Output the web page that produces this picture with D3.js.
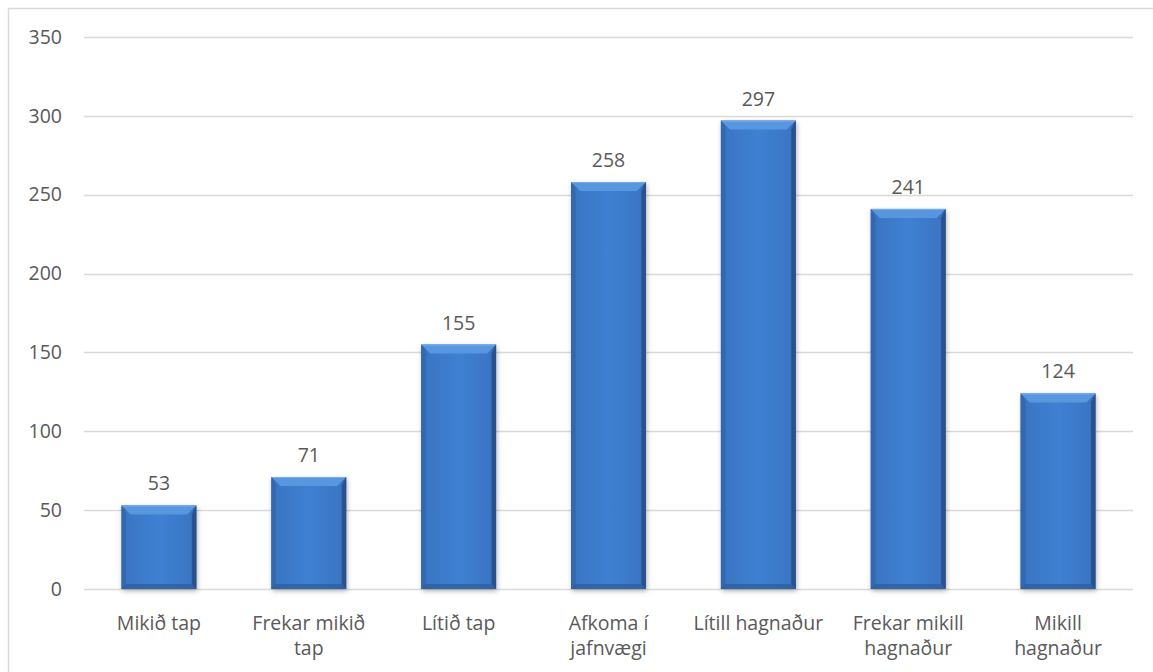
<!DOCTYPE html>
<html>
<head>
<meta charset="utf-8">
<script src="https://cdn.jsdelivr.net/npm/d3@7"></script>
<style>
  html, body { margin: 0; padding: 0; background: #fff; }
  svg { display: block; }
  text { font-family: "Open Sans", "Noto Sans", sans-serif; fill: #595959; }
</style>
</head>
<body>
<svg id="chart" width="1153" height="672"></svg>
<script>
// Category labels (each line of a wrapped label is its own entry)
const categories = [
  ["Mikið tap"],
  ["Frekar mikið", "tap"],
  ["Lítið tap"],
  ["Afkoma í", "jafnvægi"],
  ["Lítill hagnaður"],
  ["Frekar mikill", "hagnaður"],
  ["Mikill", "hagnaður"]
];
const values = [53, 71, 155, 258, 297, 241, 124];
const yTicks = [0, 50, 100, 150, 200, 250, 300, 350];

const svg = d3.select("#chart");
const plot = { left: 84, right: 1133, top: 37, bottom: 589 };
const fontSize = 19.5;

// Outer chart-area frame
svg.append("rect")
  .attr("x", 8.5).attr("y", 8.5)
  .attr("width", 1170).attr("height", 700)
  .attr("fill", "#fff").attr("stroke", "#d9d9d9").attr("stroke-width", 1.5);

const x = d3.scaleBand()
  .domain(d3.range(categories.length))
  .range([plot.left, plot.right])
  .paddingInner(0.5).paddingOuter(0.25);

const y = d3.scaleLinear().domain([0, 350]).range([plot.bottom, plot.top]);

// Gridlines
svg.append("g").selectAll("line").data(yTicks).join("line")
  .attr("x1", plot.left).attr("x2", plot.right)
  .attr("y1", d => Math.round(y(d)) + 0.5).attr("y2", d => Math.round(y(d)) + 0.5)
  .attr("stroke", "#d9d9d9").attr("stroke-width", 1.3);

// Y axis labels
const yAxis = d3.axisLeft(y).tickValues(yTicks).tickSize(0).tickPadding(0);
const yg = svg.append("g").attr("transform", `translate(62,0)`).call(yAxis);
yg.select(".domain").remove();
yg.attr("font-size", null).attr("font-family", null);
yg.selectAll("text").attr("font-size", fontSize).attr("fill", "#595959")
  .style("font-family", '"Open Sans", sans-serif');

// Bar fill: horizontal gradient dark edges -> lighter centre
const defs = svg.append("defs");
const body = defs.append("linearGradient").attr("id", "barBody")
  .attr("x1", 0).attr("x2", 1).attr("y1", 0).attr("y2", 0);
[[0, "#2d5f9f"], [0.08, "#3a76c4"], [0.5, "#3f80d2"], [0.92, "#3a76c4"], [1, "#2d5f9f"]]
  .forEach(([o, c]) => body.append("stop").attr("offset", o).attr("stop-color", c));

const shadow = defs.append("filter").attr("id", "barShadow")
  .attr("x", "-20%").attr("y", "-5%").attr("width", "140%").attr("height", "115%");
shadow.append("feDropShadow").attr("dx", 1).attr("dy", 2).attr("stdDeviation", 2.5)
  .attr("flood-color", "#000").attr("flood-opacity", 0.3);

const bars = svg.append("g").selectAll("g").data(values).join("g");
const bevel = 9, bevelTop = 9;

bars.each(function (v, i) {
  const g = d3.select(this);
  const x0 = x(i), w = x.bandwidth(), y0 = y(v), y1 = y(0);
  const h = y1 - y0;
  g.append("rect").attr("x", x0).attr("y", y0).attr("width", w).attr("height", h)
    .attr("fill", "url(#barBody)").attr("filter", "url(#barShadow)");
  // top bevel (lighter)
  g.append("path")
    .attr("d", `M${x0},${y0}L${x0 + w},${y0}L${x0 + w - bevel},${y0 + bevelTop}L${x0 + bevel},${y0 + bevelTop}Z`)
    .attr("fill", "#5896df");
  // left bevel
  g.append("path")
    .attr("d", `M${x0},${y0}L${x0 + bevel * 0.5},${y0 + bevelTop}L${x0 + bevel * 0.5},${y1 - 5}L${x0},${y1}Z`)
    .attr("fill", "#3169b0").attr("opacity", 0.85);
  // right bevel
  g.append("path")
    .attr("d", `M${x0 + w},${y0}L${x0 + w - bevel * 0.5},${y0 + bevelTop}L${x0 + w - bevel * 0.5},${y1 - 5}L${x0 + w},${y1}Z`)
    .attr("fill", "#284f8a").attr("opacity", 0.9);
  // bottom bevel
  g.append("path")
    .attr("d", `M${x0},${y1}L${x0 + bevel * 0.5},${y1 - 5}L${x0 + w - bevel * 0.5},${y1 - 5}L${x0 + w},${y1}Z`)
    .attr("fill", "#2c5c9a").attr("opacity", 0.7);
  // thin highlight along the top edge
  g.append("line").attr("x1", x0 + 1).attr("x2", x0 + w - 1)
    .attr("y1", y0 + 0.5).attr("y2", y0 + 0.5)
    .attr("stroke", "#7ab0ea").attr("stroke-width", 1);
});

// Value labels
svg.append("g").selectAll("text").data(values).join("text")
  .attr("x", (d, i) => x(i) + x.bandwidth() / 2)
  .attr("y", d => y(d) - 15)
  .attr("text-anchor", "middle").attr("font-size", fontSize)
  .text(d => d);

// Category labels
const cats = svg.append("g").selectAll("text").data(categories).join("text")
  .attr("x", (d, i) => x(i) + x.bandwidth() / 2)
  .attr("y", 630)
  .attr("text-anchor", "middle").attr("font-size", fontSize);
cats.selectAll("tspan").data(d => d).join("tspan")
  .attr("x", function () { return d3.select(this.parentNode).attr("x"); })
  .attr("dy", (d, j) => j === 0 ? 0 : 25)
  .text(d => d);
</script>
</body>
</html>
